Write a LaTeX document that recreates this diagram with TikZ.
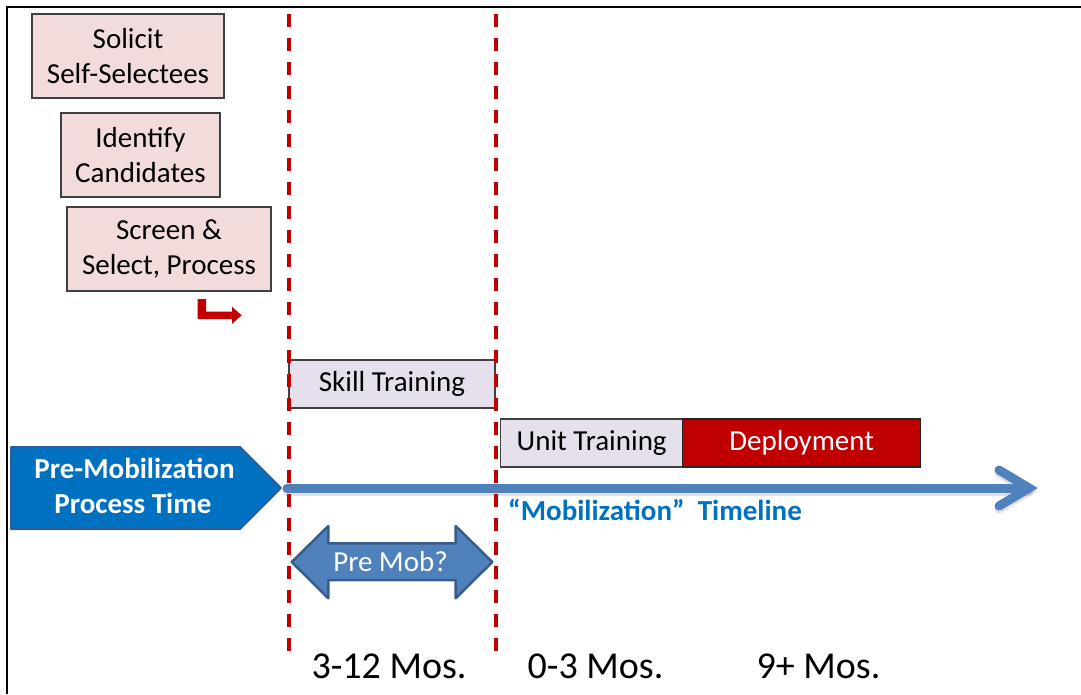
\documentclass[tikz,border=0pt]{standalone}
\usepackage{fontspec}
\setmainfont{Carlito}
\definecolor{pinkfill}{HTML}{F2DCDB}
\definecolor{lavfill}{HTML}{E6E0EC}
\definecolor{darkred}{HTML}{C00000}
\definecolor{boxline}{HTML}{404040}
\definecolor{tlblue}{HTML}{4F81BD}
\definecolor{tlborder}{HTML}{385D8A}
\definecolor{pmblue}{HTML}{0070C0}
\definecolor{pmborder}{HTML}{2C5E96}
\definecolor{mobtext}{HTML}{0070C0}
\begin{document}
\begin{tikzpicture}[x=1pt,y=-1pt,
  pinkbox/.style={draw=boxline, line width=1.3pt, fill=pinkfill, inner sep=0pt,
    align=center, font=\fontsize{29}{35}\selectfont},
  barbox/.style={draw=boxline, line width=1.3pt, inner sep=0pt,
    font=\fontsize{29}{35}\selectfont, text height=19pt, text depth=5pt},
  bigtxt/.style={font=\fontsize{29}{35}\selectfont, inner sep=0pt},
  boldtxt/.style={font=\fontsize{29}{35}\selectfont\bfseries, inner sep=0pt},
  montxt/.style={font=\fontsize{38}{44}\selectfont, inner sep=0pt, anchor=base},
  tline/.style={draw=tlblue, line width=9pt, line cap=round, line join=miter},
  shadowline/.style={draw=black, opacity=0.12, line width=9pt, line cap=round},
  redDash/.style={draw=darkred, line width=3.5pt, dash pattern=on 13pt off 11pt},
  frameline/.style={draw=black, line width=2.8pt}
]
\useasboundingbox (0,0) rectangle (1081,694);

% frame
\draw[frameline] (7,694) -- (7,7) -- (1081,7);

% process boxes
\node[pinkbox, minimum width=192, minimum height=84] (solicit) at (128,56) {Solicit\\Self-Selectees};
\node[pinkbox, minimum width=159, minimum height=84] (identify) at (140.5,155) {Identify\\Candidates};
\node[pinkbox, minimum width=204, minimum height=84] (screen) at (169,249) {Screen \&\\Select, Process};

% bent red arrow
\fill[darkred] (197.7,299) -- (206,299) -- (206,311.7) -- (232,311.7) -- (232,306.7)
  -- (241.7,315.4) -- (232,323.8) -- (232,319.2) -- (197.7,319.2) -- cycle;

% bars
\node[barbox, fill=lavfill, minimum width=206, minimum height=48] (skill) at (392,384) {Skill Training};
\node[barbox, fill=lavfill, minimum width=182, minimum height=48] (unit) at (591.7,443) {Unit Training};
\node[barbox, draw=black!85, fill=darkred, text=white, minimum width=238, minimum height=48] (deploy) at (801.7,443) {Deployment};

% timeline arrow
\coordinate (tls) at (287,488);
\coordinate (tlv) at (1029,488);
\coordinate (tla) at (999,470);
\coordinate (tlb) at (999,506);
\draw[shadowline] ([yshift=-3pt]tls) -- ([yshift=-3pt]tlv);
\draw[shadowline] ([yshift=-3pt]tla) -- ([yshift=-3pt]tlv) -- ([yshift=-3pt]tlb);
\draw[tline] (tls) -- (tlv);
\draw[tline] (tla) -- (tlv) -- (tlb);
\node[boldtxt, text=mobtext, anchor=base west] (mobl) at (508,520) {“Mobilization”\ \ Timeline};

% pre-mobilization pentagon
\coordinate (pm1) at (11,447);
\coordinate (pm2) at (240,447);
\coordinate (pm3) at (281,488);
\coordinate (pm4) at (240,529);
\coordinate (pm5) at (11,529);
\draw[fill=pmblue, draw=pmborder, line width=2pt, line join=round] (pm1) -- (pm2) -- (pm3) -- (pm4) -- (pm5) -- cycle;
\node[boldtxt, text=white, anchor=base] (pmt1) at (134.5,478) {Pre-Mobilization};
\node[boldtxt, text=white, anchor=base] (pmt2) at (133,513) {Process Time};

% Pre Mob? double arrow
\draw[fill=tlblue, draw=tlborder, line width=2.5pt, line join=round]
  (291.7,562) -- (328.3,526) -- (328.3,543.3) -- (455.7,543.3) -- (455.7,526) -- (492.3,562)
  -- (455.7,598.3) -- (455.7,580) -- (328.3,580) -- (328.3,598.3) -- cycle;
\node[bigtxt, text=white, anchor=base] (premob) at (390.5,571) {Pre Mob?};

% dashed red lines
\coordinate (d1t) at (289,14);
\coordinate (d1b) at (289,651);
\coordinate (d2t) at (496,14);
\coordinate (d2b) at (496,651);
\draw[redDash] (d1t) -- (d1b);
\draw[redDash] (d2t) -- (d2b);

% month labels
\node[montxt] (m1) at (389,678) {3-12 Mos.};
\node[montxt] (m2) at (595.5,678) {0-3 Mos.};
\node[montxt] (m3) at (818.5,678) {9+ Mos.};
\end{tikzpicture}
\end{document}
